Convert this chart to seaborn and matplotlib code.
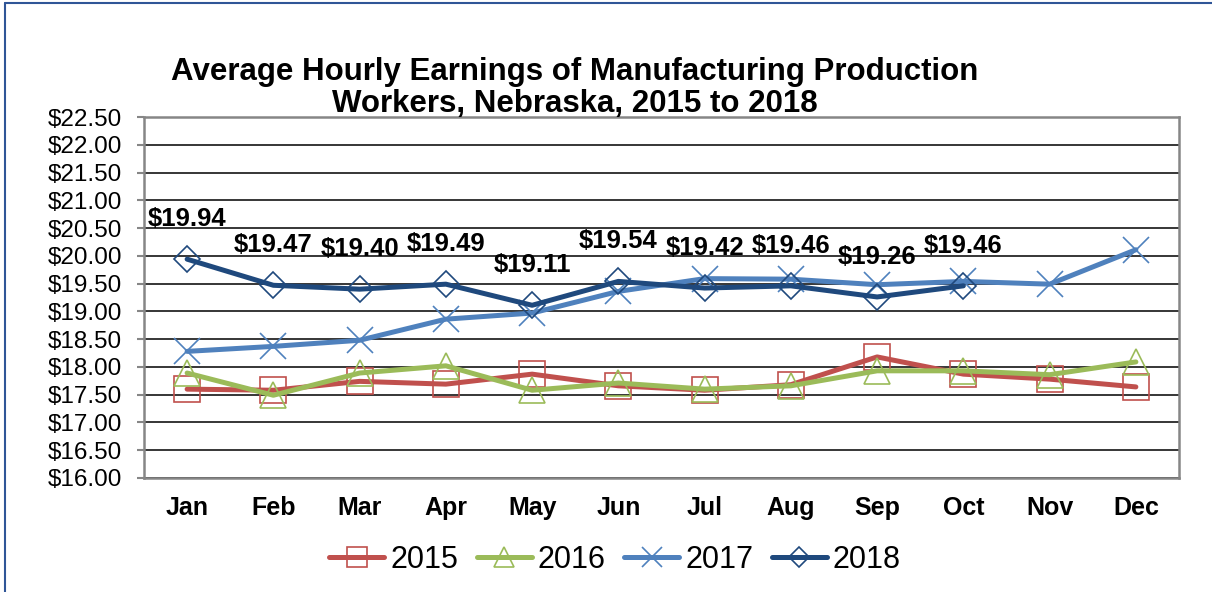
import matplotlib.pyplot as plt
import seaborn as sns
from matplotlib.lines import Line2D

# Average hourly earnings, Nebraska manufacturing production workers
months = ['Jan', 'Feb', 'Mar', 'Apr', 'May', 'Jun',
          'Jul', 'Aug', 'Sep', 'Oct', 'Nov', 'Dec']
earn_2015 = [17.60, 17.58, 17.74, 17.69, 17.87, 17.66, 17.58, 17.68, 18.18, 17.87, 17.78, 17.64]
earn_2016 = [17.89, 17.49, 17.89, 18.02, 17.58, 17.71, 17.60, 17.66, 17.93, 17.93, 17.86, 18.09]
earn_2017 = [18.28, 18.37, 18.48, 18.86, 18.97, 19.36, 19.59, 19.58, 19.48, 19.54, 19.49, 20.11]
earn_2018 = [19.94, 19.47, 19.40, 19.49, 19.11, 19.54, 19.42, 19.46, 19.26, 19.46]
y_ticks = [16.0 + 0.5 * i for i in range(14)]

sns.set_style("white")
plt.rcParams['font.family'] = ['Liberation Sans', 'DejaVu Sans']
plt.rcParams['text.color'] = 'black'

fig = plt.figure(figsize=(12.12, 5.92), dpi=100)
ax = fig.add_axes([144 / 1212, 1 - 478 / 592, (1179 - 144) / 1212, (478 - 117) / 592])

series = [
    ('2015', earn_2015, '#C0504D', 's', 19),
    ('2016', earn_2016, '#9BBB59', '^', 19),
    ('2017', earn_2017, '#4F81BD', 'x', 19),
    ('2018', earn_2018, '#1F497D', 'D', 13),
]
for name, vals, col, mk, ms in series:
    sns.lineplot(x=months[:len(vals)], y=vals, ax=ax, sort=False, legend=False,
                 color=col, lw=3.6, marker=mk, markersize=ms,
                 markerfacecolor='none', markeredgecolor=col,
                 markeredgewidth=1.2, label=name, solid_capstyle='round')

# data labels for 2018
for m, v in zip(months, earn_2018):
    ax.annotate(f'${v:.2f}', (m, v), xytext=(0, 29), textcoords='offset points',
                ha='center', va='center', fontsize=18.5, fontweight='bold', color='black')

ax.set_xlim(-0.5, 11.5)
ax.set_ylim(16, 22.5)
ax.set_yticks(y_ticks)
ax.set_yticklabels([f'${t:.2f}' for t in y_ticks])
ax.yaxis.grid(True, color='black', lw=1.1)
ax.set_axisbelow(True)
for s in ax.spines.values():
    s.set_color('#868686')
    s.set_linewidth(1.8)
ax.tick_params(axis='y', which='major', left=True, length=5, width=1.5,
               color='#868686', labelcolor='black', pad=11, labelsize=17.5)
ax.tick_params(axis='x', length=0, pad=13, labelsize=18, labelcolor='black')
for lab in ax.get_xticklabels():
    lab.set_fontweight('bold')
ax.set_xlabel('')
ax.set_ylabel('')

fig.text(575 / 1212, 1 - 88 / 592,
         'Average Hourly Earnings of Manufacturing Production\nWorkers, Nebraska, 2015 to 2018',
         ha='center', va='center', fontsize=22.5, fontweight='bold', linespacing=1.1,
         color='black')

handles, labels = ax.get_legend_handles_labels()
fig.legend(handles, labels, loc='center', bbox_to_anchor=(615 / 1212, 1 - 560 / 592),
           ncol=4, frameon=False, fontsize=22, handlelength=1.8, handletextpad=0.2,
           columnspacing=0.6, markerscale=0.75, labelcolor='black')

# outer chart border (left and top edges visible)
fig.add_artist(Line2D([5 / 1212, 5 / 1212], [0, 1 - 3 / 592], transform=fig.transFigure,
                      color='#2F5597', lw=1.5))
fig.add_artist(Line2D([5 / 1212, 1], [1 - 3 / 592, 1 - 3 / 592], transform=fig.transFigure,
                      color='#2F5597', lw=1.5))

fig.savefig('out.png', dpi=100)
